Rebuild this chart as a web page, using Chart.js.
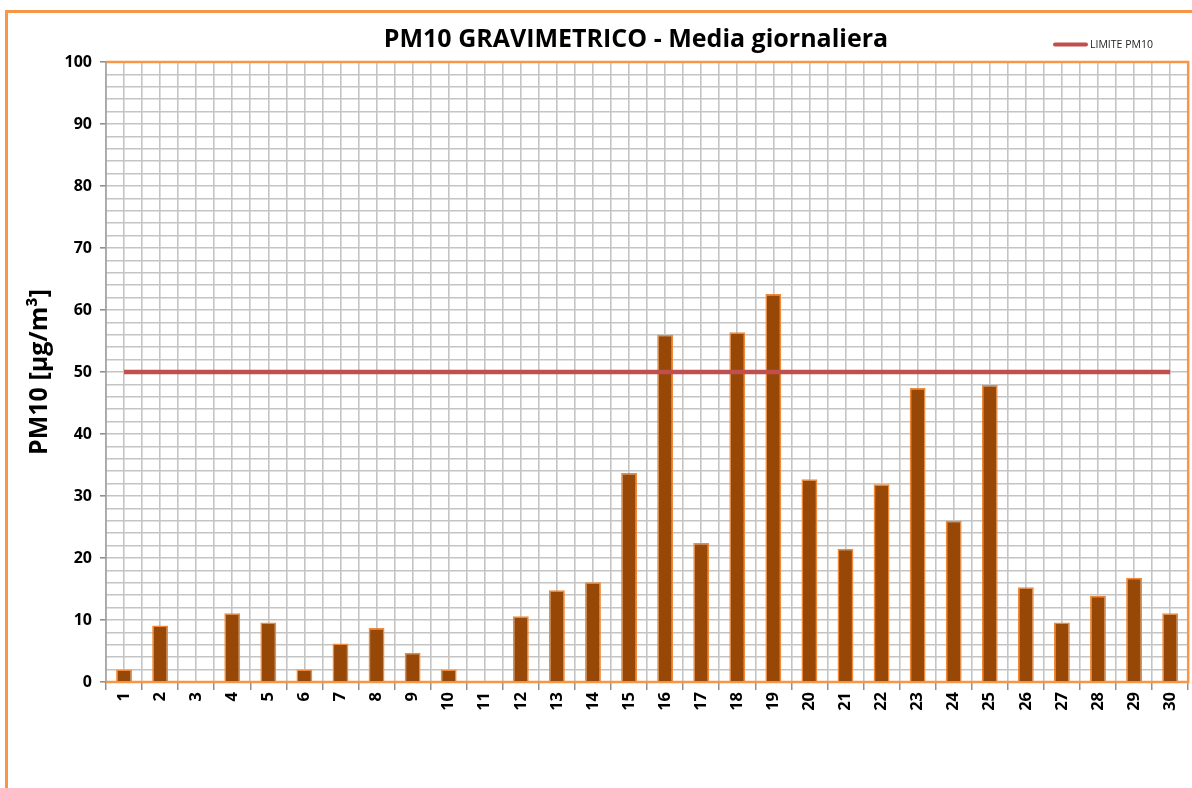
<!DOCTYPE html>
<html><head><meta charset="utf-8">
<script src="https://cdn.jsdelivr.net/npm/chart.js@4"></script>
<style>html,body{margin:0;padding:0;background:#fff;}#wrap{width:1192px;height:788px;position:relative;}</style>
</head><body><div id="wrap"><canvas id="c" width="1192" height="788"></canvas></div>
<script>
const categories = ['1','2','3','4','5','6','7','8','9','10','11','12','13','14','15','16','17','18','19','20','21','22','23','24','25','26','27','28','29','30'];
const pm10Values = [2.0,9.1,0,11.1,9.6,2.0,6.2,8.7,4.7,2.0,0,10.6,14.8,16.1,33.7,56.0,22.4,56.4,62.6,32.7,21.5,31.9,47.4,26.0,47.9,15.3,9.6,13.9,16.8,11.1];
const limitValues = categories.map(() => 50);
const yTicks = { min: 0, max: 100, step: 2, labelEvery: 10 };
const titleText = 'PM10 GRAVIMETRICO - Media giornaliera';
const yTitle = 'PM10 [µg/m³]';
const legendLabel = 'LIMITE PM10';

const FONT = '"Open Sans", "DejaVu Sans", sans-serif';
const ORANGE = '#F79646';

const decor = {
  id: 'decor',
  beforeDraw(chart) {
    const ctx = chart.ctx;
    ctx.save();
    ctx.fillStyle = '#fff';
    ctx.fillRect(0, 0, chart.width, chart.height);
    ctx.strokeStyle = ORANGE;
    ctx.lineWidth = 3;
    ctx.strokeRect(6.5, 11.5, 1250, 850);
    ctx.restore();
  },
  afterDraw(chart) {
    const ctx = chart.ctx;
    ctx.save();
    // title
    ctx.fillStyle = '#000';
    ctx.font = 'bold 25px ' + FONT;
    ctx.textAlign = 'center';
    ctx.textBaseline = 'middle';
    ctx.fillText(titleText, 636, 40);
    // legend
    ctx.strokeStyle = '#C0504D';
    ctx.lineWidth = 4;
    ctx.lineCap = 'round';
    ctx.beginPath();
    ctx.moveTo(1055, 44.5); ctx.lineTo(1086, 44.5);
    ctx.stroke();
    ctx.fillStyle = '#222';
    ctx.font = '10.5px ' + FONT;
    ctx.textAlign = 'left';
    ctx.fillText(legendLabel, 1090, 45);
    // y title
    ctx.translate(40, 372);
    ctx.rotate(-Math.PI / 2);
    ctx.font = 'bold 25px ' + FONT;
    ctx.textAlign = 'center';
    ctx.fillStyle = '#000';
    ctx.fillText(yTitle, 0, 0);
    ctx.restore();
  },
  beforeDatasetsDraw(chart) {
    const ctx = chart.ctx;
    const a = chart.chartArea;
    ctx.save();
    ctx.strokeStyle = ORANGE;
    ctx.lineWidth = 2.5;
    ctx.beginPath();
    ctx.moveTo(a.left, a.top); ctx.lineTo(a.right, a.top); ctx.lineTo(a.right, a.bottom); ctx.lineTo(a.left, a.bottom);
    ctx.stroke();
    ctx.strokeStyle = '#a0a0a0';
    ctx.lineWidth = 1.5;
    ctx.beginPath();
    ctx.moveTo(a.left, a.top); ctx.lineTo(a.left, a.bottom);
    ctx.stroke();
    ctx.restore();
  }
};

new Chart(document.getElementById('c'), {
  data: {
    labels: categories,
    datasets: [
      { type: 'line', label: legendLabel, data: limitValues, borderColor: '#C0504D', borderWidth: 4.5, pointRadius: 0, fill: false, order: 0, xAxisID: 'x', yAxisID: 'y' },
      { type: 'bar', label: 'PM10', data: pm10Values, backgroundColor: '#974806', borderColor: '#F08A3A', borderWidth: 1.5, barPercentage: 0.44, categoryPercentage: 1, order: 1, xAxisID: 'x', yAxisID: 'y' }
    ]
  },
  options: {
    responsive: false,
    animation: false,
    devicePixelRatio: 1,
    layout: { padding: { left: 0, right: 3, top: 62, bottom: 58 } },
    plugins: { legend: { display: false }, title: { display: false }, tooltip: { enabled: false } },
    scales: {
      x2: {
        type: 'linear', position: 'bottom', min: 0, max: 30,
        ticks: { display: false, stepSize: 0.5 },
        grid: { color: '#c4c4c4', lineWidth: 1.6, drawTicks: false },
        border: { display: false },
        afterFit(s) { s.height = 0; }
      },
      x: {
        type: 'category', offset: true,
        grid: { offset: true, drawOnChartArea: false, tickLength: 8, color: '#909090', lineWidth: 1.5 },
        border: { display: false },
        ticks: { color: '#000', font: { family: FONT, weight: 'bold', size: 16.5 }, maxRotation: 90, minRotation: 90, padding: 2, autoSkip: false },
        afterFit(s) { s.height = 48; }
      },
      y: {
        min: yTicks.min, max: yTicks.max,
        ticks: {
          stepSize: yTicks.step, color: '#000', padding: 8, autoSkip: false,
          font: { family: FONT, weight: 'bold', size: 16 },
          callback: v => (v % yTicks.labelEvery === 0 ? String(v) : '')
        },
        grid: {
          color: '#c4c4c4', lineWidth: 1.6, tickLength: 6,
          tickColor: c => (c.tick && c.tick.value % yTicks.labelEvery === 0 ? '#909090' : 'rgba(0,0,0,0)')
        },
        border: { display: false },
        afterFit(s) { s.width = 106; }
      }
    }
  },
  plugins: [decor]
});
</script>
</body></html>
